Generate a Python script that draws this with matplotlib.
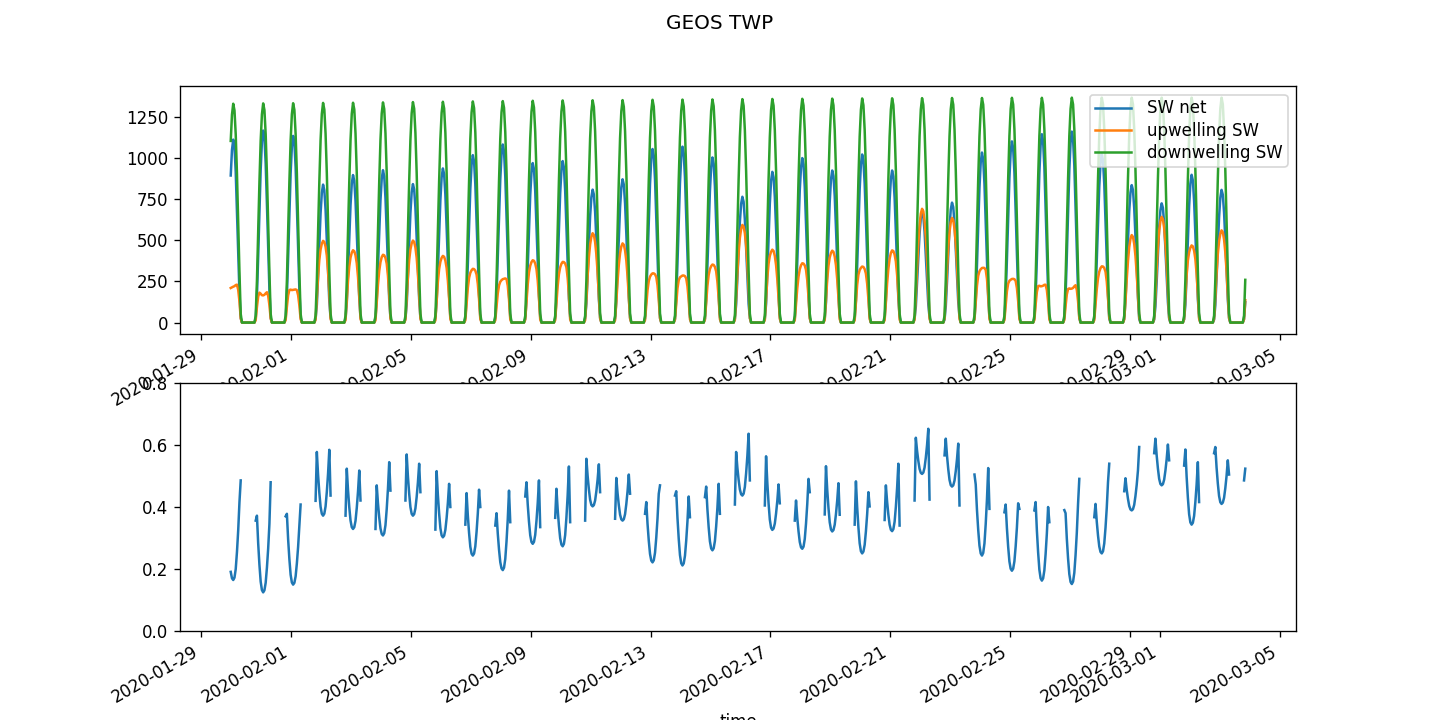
import numpy as np
import pandas as pd
import matplotlib
matplotlib.use("Agg")
import matplotlib.pyplot as plt
from matplotlib.ticker import MultipleLocator

# ---- data ----
# hourly (HH:30) time axis
t_start = "2020-01-29 23:30"
t_end = "2020-03-03 20:30"
noon0 = "2020-01-30 01:30"   # first local-noon hour (UTC)

# daily peak downwelling SW (W m-2), day 0 = 2020-01-30
down_peak = [1331, 1333, 1334, 1336, 1337, 1339, 1341, 1343, 1345, 1347,
             1349, 1351, 1352, 1353, 1355, 1356, 1357, 1359, 1360, 1361,
             1362, 1363, 1364, 1365, 1366, 1366, 1367, 1367, 1368, 1368,
             1368, 1368, 1368, 1368, 1368]

# diurnal fraction of peak downwelling SW, hour offsets -6 .. +6 from noon
diurnal_frac = [0.03, 0.19, 0.42, 0.64, 0.83, 0.95, 1.00,
                0.97, 0.86, 0.68, 0.46, 0.23, 0.04]

# albedo (upwelling / downwelling) per day:
alb_first = [0.33, 0.356, 0.37, 0.42, 0.372, 0.329, 0.421, 0.327, 0.343, 0.34,
             0.434, 0.365, 0.356, 0.362, 0.378, 0.437, 0.432, 0.408, 0.405, 0.356,
             0.376, 0.343, 0.358, 0.421, 0.567, 0.505, 0.383, 0.389, 0.39, 0.367,
             0.451, 0.574, 0.534, 0.574, 0.486]          # hour -6
alb_morning = [0.352, 0.372, 0.378, 0.578, 0.524, 0.47, 0.57, 0.516, 0.445, 0.38,
               0.48, 0.459, 0.556, 0.494, 0.416, 0.451, 0.466, 0.578, 0.564, 0.421,
               0.532, 0.483, 0.47, 0.624, 0.621, 0.473, 0.408, 0.416, 0.38, 0.41,
               0.493, 0.621, 0.586, 0.594, 0.524]        # hour -5
alb_noon = [0.164, 0.124, 0.149, 0.372, 0.329, 0.308, 0.372, 0.302, 0.243, 0.196,
            0.281, 0.273, 0.402, 0.356, 0.221, 0.211, 0.26, 0.437, 0.326, 0.265,
            0.321, 0.25, 0.322, 0.507, 0.466, 0.243, 0.194, 0.162, 0.151, 0.25,
            0.389, 0.47, 0.343, 0.41, 0.45]              # hour 0
alb_evening = [0.416, 0.345, 0.34, 0.585, 0.518, 0.545, 0.54, 0.475, 0.456, 0.453,
               0.486, 0.531, 0.538, 0.505, 0.443, 0.434, 0.475, 0.637, 0.473, 0.491,
               0.477, 0.448, 0.54, 0.653, 0.605, 0.526, 0.412, 0.40, 0.41, 0.48,
               0.518, 0.602, 0.545, 0.551, 0.5]          # hour +5
alb_last = [0.486, 0.48, 0.408, 0.437, 0.421, 0.453, 0.448, 0.40, 0.40, 0.351,
            0.335, 0.351, 0.448, 0.443, 0.47, 0.367, 0.378, 0.486, 0.412, 0.448,
            0.375, 0.402, 0.34, 0.424, 0.405, 0.394, 0.394, 0.351, 0.491, 0.54,
            0.594, 0.551, 0.416, 0.505, 0.5]             # hour +6
# shape of the albedo bowl between the edge hours and noon, |offset| 0..4
bowl = [0.0, 0.03, 0.14, 0.36, 0.64]

# ---- assemble hourly series ----
time = pd.date_range(t_start, t_end, freq="h")
h = ((time - pd.Timestamp(noon0)) / pd.Timedelta(hours=1)).astype(int).to_numpy()
day = (h + 12) // 24
off = h - 24 * day

down = np.zeros(len(time))
alb = np.full(len(time), np.nan)
for i, (d, o) in enumerate(zip(day, off)):
    if -6 <= o <= 6:
        down[i] = down_peak[d] * diurnal_frac[o + 6]
        if o == -6:
            a = alb_first[d]
        elif o == -5:
            a = alb_morning[d]
        elif o == 5:
            a = alb_evening[d]
        elif o == 6:
            a = alb_last[d]
        elif o < 0:
            a = alb_noon[d] + (alb_morning[d] - alb_noon[d]) * bowl[-o]
        else:
            a = alb_noon[d] + (alb_evening[d] - alb_noon[d]) * bowl[o]
        alb[i] = a
up = np.where(np.isnan(alb), 0.0, alb) * down
net = down - up

# ---- plot ----
fig, (ax1, ax2) = plt.subplots(2, 1, figsize=(12, 6), dpi=120)
fig.subplots_adjust(left=0.125, right=0.9, top=0.88, bottom=0.124, hspace=0.2)
fig.suptitle("GEOS TWP")

ax1.plot(time, net, label="SW net")
ax1.plot(time, up, label="upwelling SW")
ax1.plot(time, down, label="downwelling SW")
ax1.legend(loc="upper right", labelspacing=0.26, borderpad=0.28,
           handlelength=2.2, handletextpad=0.95)
ax1.yaxis.set_major_locator(MultipleLocator(250))

ax2.plot(time, alb)
ax2.set_ylim(0, 0.8)
ax2.yaxis.set_major_locator(MultipleLocator(0.2))
ax2.set_xlabel("time")

for ax in (ax1, ax2):
    for lbl in ax.get_xticklabels(which="major"):
        lbl.set_ha("right")
        lbl.set_rotation(30)

fig.savefig("out.png", dpi=120)
